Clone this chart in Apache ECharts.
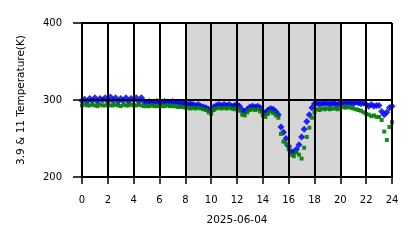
<!DOCTYPE html>
<html>
<head>
<meta charset="utf-8">
<script src="https://cdn.jsdelivr.net/npm/echarts@6/dist/echarts.min.js"></script>
<style>
  html, body { margin: 0; padding: 0; background: #fff; }
  #chart { width: 418px; height: 248px; }
</style>
</head>
<body>
<div id="chart"></div>
<script>
// hours of day (UTC) for each sample
const hours = [
  0.0, 0.2, 0.4, 0.6, 0.8, 1.0, 1.2, 1.4, 1.6, 1.8,
  2.0, 2.2, 2.4, 2.6, 2.8, 3.0, 3.2, 3.4, 3.6, 3.8,
  4.0, 4.2, 4.4, 4.6, 4.8, 5.0, 5.2, 5.4, 5.6, 5.8,
  6.0, 6.2, 6.4, 6.6, 6.8, 7.0, 7.2, 7.4, 7.6, 7.8,
  8.0, 8.2, 8.4, 8.6, 8.8, 9.0, 9.2, 9.4, 9.6, 9.8,
  10.0, 10.2, 10.4, 10.6, 10.8, 11.0, 11.2, 11.4, 11.6, 11.8,
  12.0, 12.2, 12.4, 12.6, 12.8, 13.0, 13.2, 13.4, 13.6, 13.8,
  14.0, 14.2, 14.4, 14.6, 14.8, 15.0, 15.2, 15.4, 15.6, 15.8,
  16.0, 16.2, 16.4, 16.6, 16.8, 17.0, 17.2, 17.4, 17.6, 17.8,
  18.0, 18.2, 18.4, 18.6, 18.8, 19.0, 19.2, 19.4, 19.6, 19.8,
  20.0, 20.2, 20.4, 20.6, 20.8, 21.0, 21.2, 21.4, 21.6, 21.8,
  22.0, 22.2, 22.4, 22.6, 22.8, 23.0, 23.2, 23.4, 23.6, 23.8,
  24.0
]

// 3.9 um brightness temperature (blue), K
const temp39 = [
  299, 301, 298, 302, 299, 303, 298, 302, 300, 303,
  298, 304, 299, 303, 298, 302, 299, 303, 298, 302,
  300, 303, 298, 303, 298, 297, 298, 297, 297, 298,
  297, 297, 298, 297, 297, 298, 297, 297, 296, 296,
  295, 294, 295, 294, 293, 294, 292, 291, 290, 288,
  286, 291, 293, 294, 293, 294, 293, 294, 292, 293,
  294, 292, 287, 285, 288, 291, 292, 291, 292, 290,
  285, 283, 287, 289, 288, 285, 281, 265, 258, 250,
  240, 233, 232, 236, 242, 252, 262, 272, 281, 290,
  295, 296, 294, 296, 295, 296, 294, 296, 295, 294,
  296, 297, 295, 297, 296, 295, 297, 296, 295, 296,
  294, 292, 294, 292, 293, 293, 285, 281, 284, 290,
  292
]

// 11 um brightness temperature (green), K
const temp11 = [
  293, 294, 293, 293, 294, 293, 292, 294, 293, 293,
  294, 293, 293, 294, 293, 292, 294, 293, 293, 294,
  293, 293, 294, 293, 292, 292, 292, 293, 292, 292,
  292, 292, 292, 293, 292, 292, 292, 291, 291, 291,
  290, 290, 289, 290, 289, 290, 289, 288, 287, 284,
  282, 287, 289, 290, 289, 290, 289, 290, 289, 288,
  289, 286, 281, 280, 284, 287, 288, 287, 288, 285,
  280, 278, 282, 285, 283, 280, 277, 256, 246, 243,
  236, 229, 227, 232, 229, 224, 238, 252, 264, 277,
  284, 288, 287, 289, 288, 289, 288, 289, 289, 288,
  290, 291, 290, 291, 290, 289, 288, 287, 286, 284,
  282, 281, 279, 280, 278, 278, 274, 259, 248, 265,
  271
]

// shaded period (hours)
const shadeStart = 8
const shadeEnd = 20

const chart = echarts.init(document.getElementById('chart'), null, { renderer: 'canvas' })

const black = '#000'
const font = 'DejaVu Sans'

chart.setOption({
  animation: false,
  textStyle: { fontFamily: font },
  grid: { left: 82, right: 26, top: 23, bottom: 71 },
  xAxis: {
    type: 'value',
    min: 0,
    max: 24,
    interval: 2,
    z: 5,
    name: '2025-06-04',
    nameLocation: 'middle',
    nameGap: 38,
    nameTextStyle: { color: black, fontSize: 10.5, fontFamily: font },
    axisLine: { show: true, lineStyle: { color: black, width: 2 } },
    axisTick: { show: true, length: 7, lineStyle: { color: black, width: 1.5 } },
    axisLabel: { color: black, fontSize: 10, margin: 18, fontFamily: font },
    splitLine: { show: true, lineStyle: { color: black, width: 2 } },
  },
  yAxis: {
    type: 'value',
    min: 200,
    max: 400,
    interval: 100,
    z: 5,
    name: '3.9 & 11 Temperature(K)',
    nameLocation: 'middle',
    nameGap: 55,
    nameTextStyle: { color: black, fontSize: 10.5, fontFamily: font },
    axisLine: { show: true, lineStyle: { color: black, width: 2 } },
    axisTick: { show: true, length: 9, lineStyle: { color: black, width: 1.5 } },
    axisLabel: { color: black, fontSize: 10, margin: 20, fontFamily: font },
    splitLine: { show: true, lineStyle: { color: black, width: 2 } },
  },
  series: [
    {
      type: 'scatter',
      data: [],
      z: 1,
      silent: true,
      markArea: {
        silent: true,
        itemStyle: { color: '#d6d6d6' },
        data: [[{ xAxis: shadeStart }, { xAxis: shadeEnd }]],
      },
    },
    {
      name: '3.9',
      type: 'scatter',
      z: 2,
      symbol: 'diamond',
      symbolSize: 7,
      itemStyle: { color: '#0000ff', opacity: 0.85 },
      data: hours.map((h, i) => [h, temp39[i]]),
    },
    {
      name: '11',
      type: 'scatter',
      z: 3,
      symbol: 'rect',
      symbolSize: 4,
      itemStyle: { color: '#008000', opacity: 0.9 },
      data: hours.map((h, i) => [h, temp11[i]]),
    },
  ],
})
</script>
</body>
</html>
